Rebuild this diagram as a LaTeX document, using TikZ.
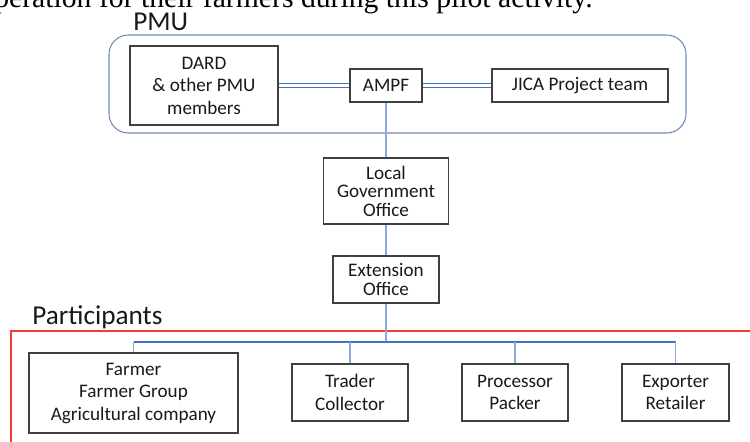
\documentclass[tikz,border=0pt]{standalone}
\usepackage{fontspec}
\setmainfont{Carlito}
\newfontfamily\bodyserif{Liberation Serif}
\definecolor{boxline}{HTML}{404040}
\definecolor{frameblue}{HTML}{7189B9}
\definecolor{linkblue}{HTML}{4472C4}
\definecolor{stemblue}{HTML}{8CA8DC}
\definecolor{redline}{HTML}{F03C3C}

\begin{document}
\begin{tikzpicture}[x=0.02cm,y=-0.02cm,
    boxsize/.style 2 args={minimum width=#1*0.02cm,minimum height=#2*0.02cm},
    orgbox/.style={draw=boxline,line width=0.7pt,fill=white,inner sep=0pt,
        align=center,text=black!90,font=\fontsize{10.9}{12.8}\selectfont},
    tightbox/.style={orgbox,font=\fontsize{10.9}{10.5}\selectfont},
    grouplabel/.style={anchor=base west,inner sep=0pt,text=black!90,
        font=\fontsize{15.5}{18}\selectfont},
    twinline/.style={draw=linkblue,line width=0.9pt},
    stem/.style={draw=stemblue,line width=0.6pt},
    bus/.style={draw=linkblue,line width=0.6pt}]

    \useasboundingbox (0,0) rectangle (750,441);

    % Running text cut at the top
    \node[anchor=base east,inner sep=0pt,font=\bodyserif\fontsize{16.9}{20}\selectfont]
        (intro) at (593,7) {operation for their farmers during this pilot activity.};

    % PMU group
    \node[draw=frameblue,line width=0.6pt,rounded corners=11pt,inner sep=0pt,
        boxsize={577}{98}] (pmu) at (397.5,84) {};
    \node[grouplabel] (pmulabel) at (133,30) {PMU};

    \node[orgbox,boxsize={148}{79}] (dard) at (204,85.5)
        {DARD\\\& other PMU\\members};
    \node[orgbox,boxsize={72}{33}] (ampf) at (386,85.5) {AMPF};
    \node[orgbox,boxsize={176}{33}] (jica) at (580,85.5) {JICA Project team};

    \foreach \s in {-1.1pt,1.1pt} {
        \draw[twinline] ([yshift=\s]dard.east) -- ([yshift=\s]ampf.west);
        \draw[twinline] ([yshift=\s]ampf.east) -- ([yshift=\s]jica.west);
    }

    % Offices
    \node[tightbox,boxsize={125}{66}] (lgo) at (386,191)
        {Local\\Government\\Office};
    \node[tightbox,boxsize={106}{47}] (ext) at (386,279.5)
        {Extension\\Office};

    \draw[stem] (ampf) -- (lgo);
    \draw[stem] (lgo) -- (ext);

    % Participants group
    \node[grouplabel] (partlabel) at (32,324.5) {Participants};
    \coordinate (redend) at (760,331);
    \coordinate (redcorner) at (11,331);
    \coordinate (redfoot) at (11,450);
    \draw[redline,line width=0.6pt] (redend) -- (redcorner) -- (redfoot);

    \node[orgbox,boxsize={209}{80}] (farmer) at (133.5,393)
        {Farmer\\Farmer Group\\Agricultural company};
    \node[orgbox,boxsize={116}{57}] (trader) at (350,392.5)
        {Trader\\Collector};
    \node[orgbox,boxsize={106}{57}] (proc) at (515,392.5)
        {Processor\\Packer};
    \node[orgbox,boxsize={107}{57}] (expo) at (675.5,392.5)
        {Exporter\\Retailer};

    % Bus
    \coordinate (bus) at (386,342);
    \draw[stem] (ext) -- (bus);
    \draw[bus] (farmer.north |- bus) -- (expo.north |- bus);
    \foreach \p in {farmer,trader,proc,expo} {
        \draw[stem] (\p.north |- bus) -- (\p.north);
    }
\end{tikzpicture}
\end{document}
